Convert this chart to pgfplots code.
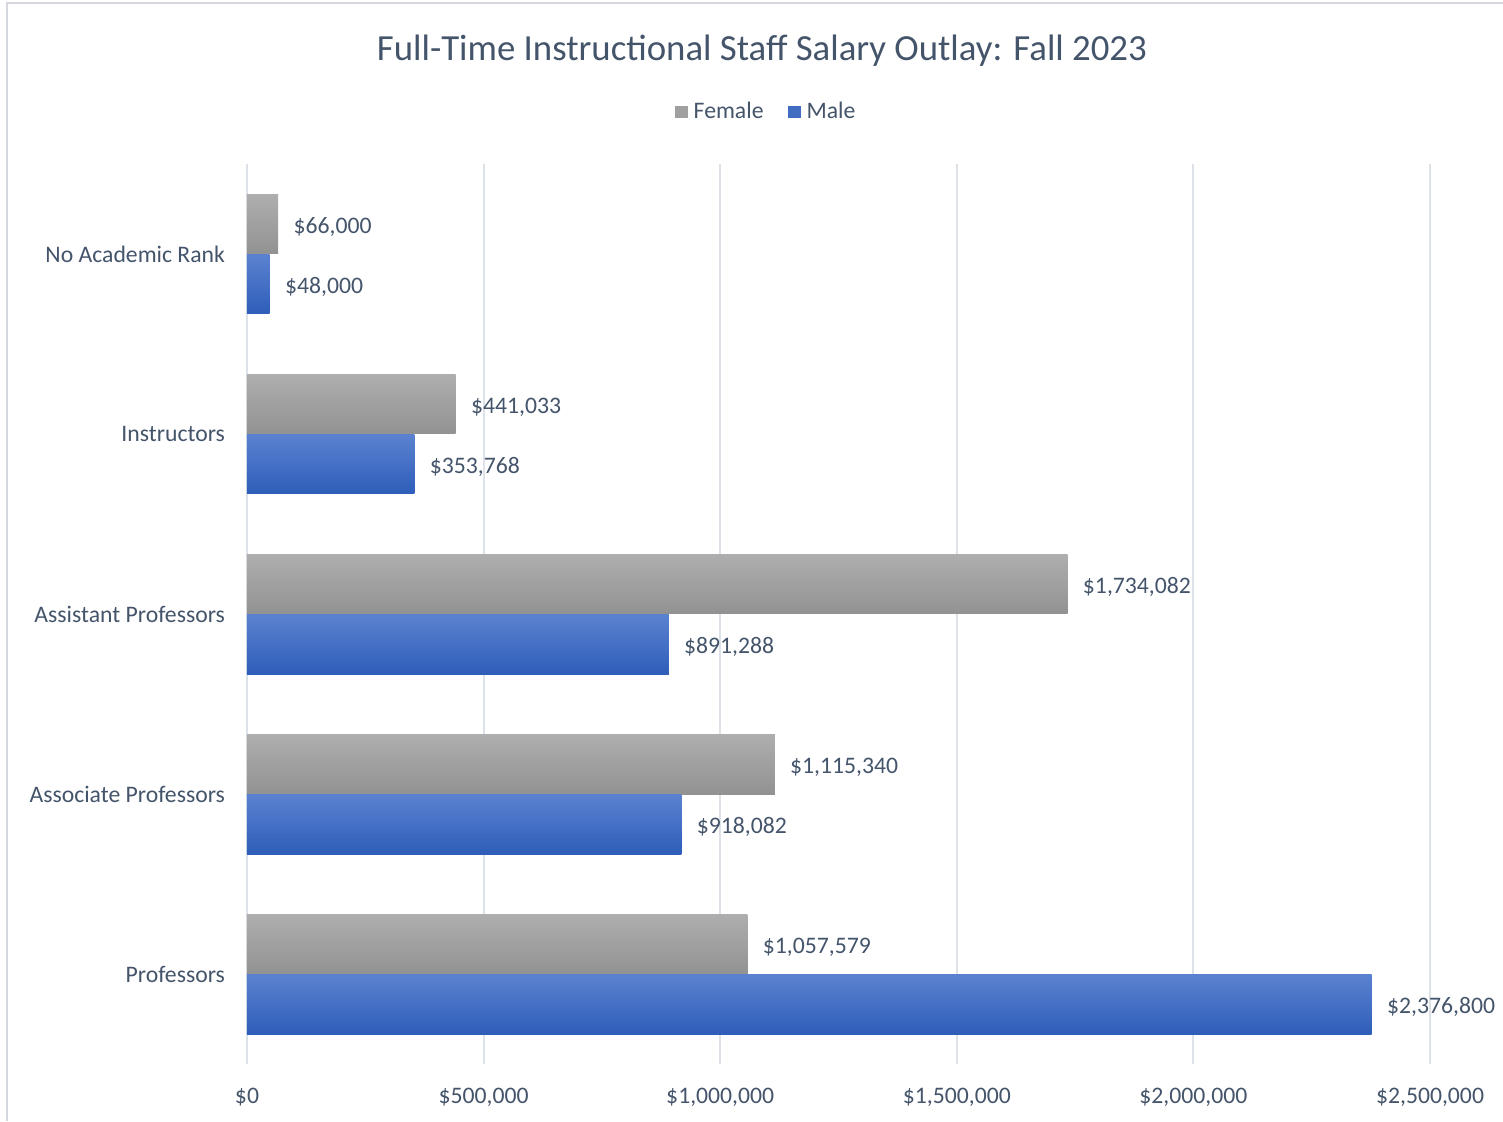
\documentclass[border=0pt]{standalone}
\usepackage{pgfplots}
\pgfplotsset{compat=1.18}
\usepackage{fontspec}
\setmainfont{Carlito}
\definecolor{txt}{HTML}{44546A}
\definecolor{gridc}{HTML}{DDE2E8}
\definecolor{fTop}{HTML}{AEAEAE}
\definecolor{fBot}{HTML}{929292}
\definecolor{mTop}{HTML}{5B82D0}
\definecolor{mBot}{HTML}{2E5EB9}
\pgfplotsset{
  fem/.style={draw=none, top color=fTop, bottom color=fBot, bar shift=-0.16667, forget plot},
  mal/.style={draw=none, top color=mTop, bottom color=mBot, bar shift=0.16667, forget plot},
}
\begin{document}
\begin{tikzpicture}[x=1pt,y=1pt]
\path[use as bounding box] (-123.5,-29) rectangle (628,532);
\draw[color=gridc!90!gray, line width=0.8pt] (-120,-28.5) -- (-120,530.5) -- (628,530.5);
\node[font=\fontsize{18.4}{22}\selectfont, text=txt] at (257.5,506.5) {Full-Time Instructional Staff Salary Outlay: Fall 2023};
\begin{axis}[
  at={(0,0)}, anchor=south west, scale only axis,
  width=591.5pt, height=450pt,
  xbar, xmin=0, xmax=2500000, ymin=-0.5, ymax=4.5, y dir=reverse,
  ytick={0,1,2,3,4},
  yticklabels={No Academic Rank, Instructors, Assistant Professors, Associate Professors, Professors},
  xtick={0,500000,1000000,1500000,2000000,2500000},
  xticklabels={{\$0},{\$500,000},{\$1,000,000},{\$1,500,000},{\$2,000,000},{\$2,500,000}},
  axis line style={draw=none},
  major tick length=0pt,
  xmajorgrids, major grid style={draw=gridc, line width=1pt},
  font=\fontsize{11.85}{14}\selectfont,
  ticklabel style={text=txt, font=\fontsize{11.85}{14}\selectfont},
  yticklabel style={xshift=-7.5pt},
  xticklabel style={yshift=-8.5pt},
  bar width=0.3333,
  point meta=explicit symbolic,
  nodes near coords={\$\pgfplotspointmeta},
  nodes near coords style={anchor=west, inner sep=0pt, xshift=7.5pt, yshift=-1.5pt, text=txt, font=\fontsize{11.85}{14}\selectfont},
  legend style={at={(0.4396,1.0578)}, anchor=center, draw=none, fill=none, legend columns=2,
    font=\fontsize{11.85}{14}\selectfont, text=txt,
    /tikz/every even column/.append style={column sep=10pt},
    /tikz/every odd column/.append style={column sep=1pt}},
  legend image code/.code={\path[#1] (0pt,-3.2pt) rectangle (6.5pt,3.2pt);},
  clip=false,
]
\addplot[fem] coordinates {(66000,0) [66,000]};
\addplot[fem] coordinates {(441033,1) [441,033]};
\addplot[fem] coordinates {(1734082,2) [1,734,082]};
\addplot[fem] coordinates {(1115340,3) [1,115,340]};
\addplot[fem] coordinates {(1057579,4) [1,057,579]};
\addplot[mal] coordinates {(48000,0) [48,000]};
\addplot[mal] coordinates {(353768,1) [353,768]};
\addplot[mal] coordinates {(891288,2) [891,288]};
\addplot[mal] coordinates {(918082,3) [918,082]};
\addplot[mal] coordinates {(2376800,4) [2,376,800]};
\addlegendimage{draw=none, fill=fTop!50!fBot}
\addlegendentry{Female}
\addlegendimage{draw=none, fill=mTop!40!mBot}
\addlegendentry{Male}
\end{axis}
\end{tikzpicture}
\end{document}
